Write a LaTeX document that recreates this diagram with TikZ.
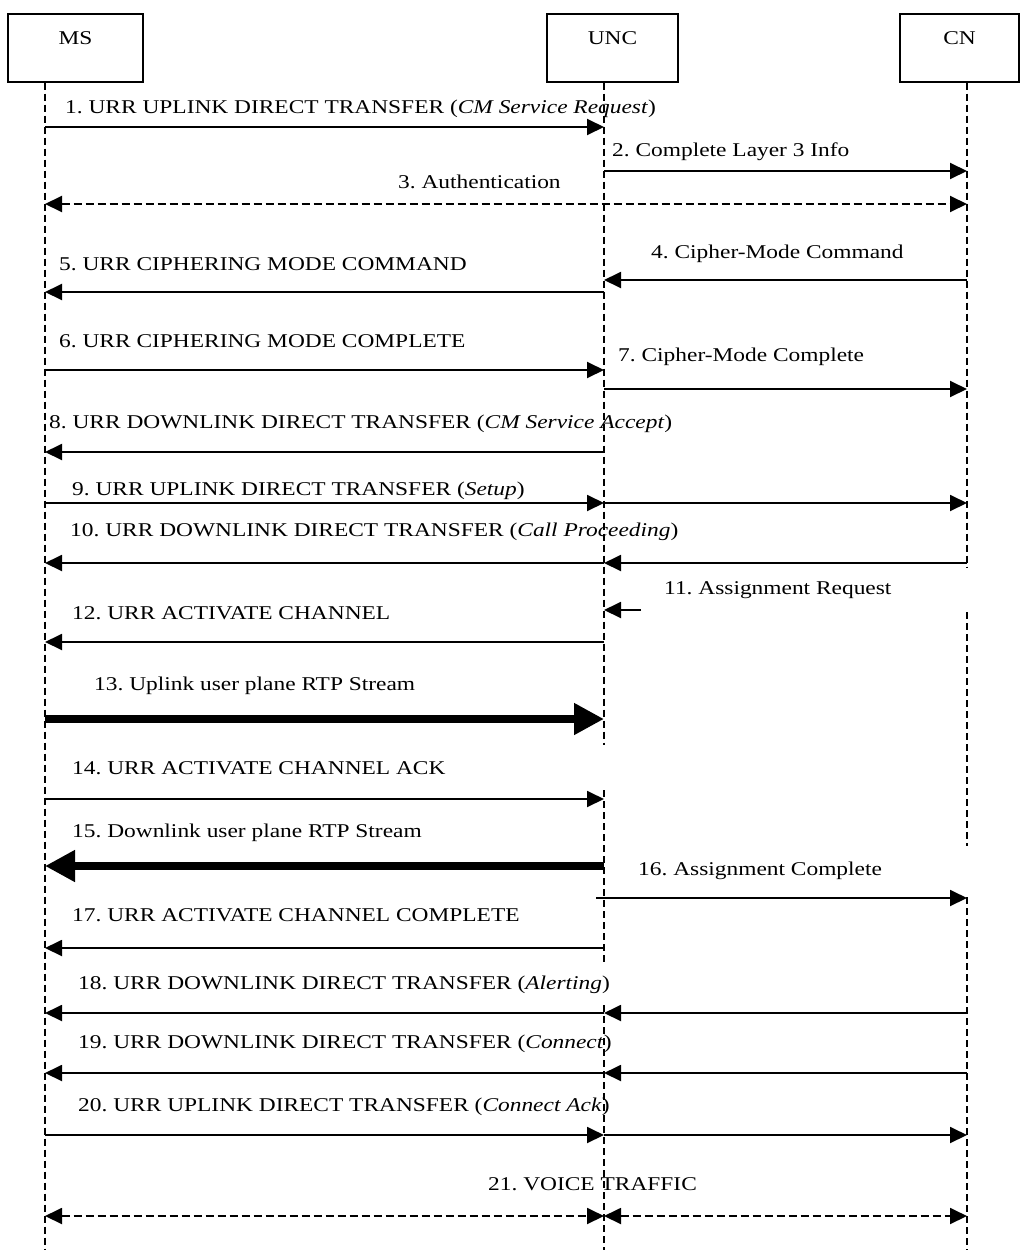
\documentclass[tikz,border=0pt]{standalone}
\usepackage{fontspec}
\setmainfont{Liberation Serif}[FakeStretch=1.2]
\usetikzlibrary{arrows.meta}
\begin{document}
\frenchspacing
\begin{tikzpicture}[x=1pt,y=-1pt,
 every node/.style={font=\fontsize{19.5}{22}\selectfont},
 actor/.style={draw, line width=1.4pt, minimum height=68pt, inner sep=0pt},
 boxlbl/.style={anchor=north, yshift=-18pt, inner sep=0pt},
 life/.style={line width=1.2pt, dash pattern=on 7pt off 4pt},
 msg/.style={line width=1.9pt, -{Triangle[length=17pt,width=16pt]}},
 dmsg/.style={line width=1.9pt, dash pattern=on 8pt off 4pt, {Triangle[length=17pt,width=16pt]}-{Triangle[length=17pt,width=16pt]}},
 fat/.style={line width=8pt, -{Triangle[length=30pt,width=30pt]}},
 lbl/.style={anchor=west, inner sep=0pt}]
\useasboundingbox (0,0) rectangle (1021,1250);
% actors
\node[actor, minimum width=135pt, label={[boxlbl]north:MS}] (MS) at (75.5,48) {};
\node[actor, minimum width=131pt, label={[boxlbl]north:UNC}] (UNC) at (612.5,48) {};
\node[actor, minimum width=119pt, label={[boxlbl]north:CN}] (CN) at (959.5,48) {};
% lifeline anchors
\coordinate (ms) at (MS.south -| 45,0);
\coordinate (unc) at (UNC.south -| 604,0);
\coordinate (cn) at (CN.south -| 967,0);
% lifelines
\draw[life] (ms) -- (ms |- 0,1250);
\draw[life] (unc) -- (unc |- 0,745);
\draw[life] (unc |- 0,790) -- (unc |- 0,962);
\draw[life] (unc |- 0,1005) -- (unc |- 0,1250);
\draw[life] (cn) -- (cn |- 0,568);
\draw[life] (cn |- 0,612) -- (cn |- 0,846);
\draw[life] (cn |- 0,897) -- (cn |- 0,1250);
% 1
\node[lbl] (l1) at (65,109) {1. URR UPLINK DIRECT TRANSFER (\textit{CM Service Request})};
\draw[msg] (ms |- 0,127) -- (unc |- 0,127);
% 2
\node[lbl] (l2) at (612,152) {2. Complete Layer 3 Info};
\draw[msg] (unc |- 0,171) -- (cn |- 0,171);
% 3
\node[lbl] (l3) at (398,182) {3. Authentication};
\draw[dmsg] (ms |- 0,204) -- (cn |- 0,204);
% 4
\node[lbl] (l4) at (651,254) {4. Cipher-Mode Command};
\draw[msg] (cn |- 0,280) -- (unc |- 0,280);
% 5
\node[lbl] (l5) at (59,264) {5. URR CIPHERING MODE COMMAND};
\draw[msg] (unc |- 0,292) -- (ms |- 0,292);
% 6
\node[lbl] (l6) at (59,341) {6. URR CIPHERING MODE COMPLETE};
\draw[msg] (ms |- 0,370) -- (unc |- 0,370);
% 7
\node[lbl] (l7) at (618,357) {7. Cipher-Mode Complete};
\draw[msg] (unc |- 0,389) -- (cn |- 0,389);
% 8
\node[lbl] (l8) at (49,424) {8. URR DOWNLINK DIRECT TRANSFER (\textit{CM Service Accept})};
\draw[msg] (unc |- 0,452) -- (ms |- 0,452);
% 9
\node[lbl] (l9) at (72,491) {9. URR UPLINK DIRECT TRANSFER (\textit{Setup})};
\draw[msg] (ms |- 0,503) -- (unc |- 0,503);
\draw[msg] (unc |- 0,503) -- (cn |- 0,503);
% 10
\node[lbl] (l10) at (70,532) {10. URR DOWNLINK DIRECT TRANSFER (\textit{Call Proceeding})};
\draw[msg] (cn |- 0,563) -- (unc |- 0,563);
\draw[msg] (unc |- 0,563) -- (ms |- 0,563);
% 11
\node[lbl] (l11) at (664,590) {11. Assignment Request};
\coordinate (a11) at (641,610);
\draw[msg] (a11) -- (unc |- a11);
% 12
\node[lbl] (l12) at (72,613) {12. URR ACTIVATE CHANNEL};
\draw[msg] (unc |- 0,642) -- (ms |- 0,642);
% 13
\node[lbl] (l13) at (94,686) {13. Uplink user plane RTP Stream};
\draw[fat] (ms |- 0,719) -- (unc |- 0,719);
% 14
\node[lbl] (l14) at (72,768) {14. URR ACTIVATE CHANNEL ACK};
\draw[msg] (ms |- 0,799) -- (unc |- 0,799);
% 15
\node[lbl] (l15) at (72,833) {15. Downlink user plane RTP Stream};
\draw[fat] (unc |- 0,866) -- (ms |- 0,866);
% 16
\node[lbl] (l16) at (638,871) {16. Assignment Complete};
\coordinate (a16) at (596,898);
\draw[msg] (a16) -- (cn |- a16);
% 17
\node[lbl] (l17) at (72,915) {17. URR ACTIVATE CHANNEL COMPLETE};
\draw[msg] (unc |- 0,948) -- (ms |- 0,948);
% 18
\node[lbl] (l18) at (78,985) {18. URR DOWNLINK DIRECT TRANSFER (\textit{Alerting})};
\draw[msg] (cn |- 0,1013) -- (unc |- 0,1013);
\draw[msg] (unc |- 0,1013) -- (ms |- 0,1013);
% 19
\node[lbl] (l19) at (78,1044) {19. URR DOWNLINK DIRECT TRANSFER (\textit{Connect})};
\draw[msg] (cn |- 0,1073) -- (unc |- 0,1073);
\draw[msg] (unc |- 0,1073) -- (ms |- 0,1073);
% 20
\node[lbl] (l20) at (78,1107) {20. URR UPLINK DIRECT TRANSFER (\textit{Connect Ack})};
\draw[msg] (ms |- 0,1135) -- (unc |- 0,1135);
\draw[msg] (unc |- 0,1135) -- (cn |- 0,1135);
% 21
\node[lbl] (l21) at (488,1184) {21. VOICE TRAFFIC};
\draw[dmsg] (ms |- 0,1216) -- (unc |- 0,1216);
\draw[dmsg] (unc |- 0,1216) -- (cn |- 0,1216);
\end{tikzpicture}
\end{document}
